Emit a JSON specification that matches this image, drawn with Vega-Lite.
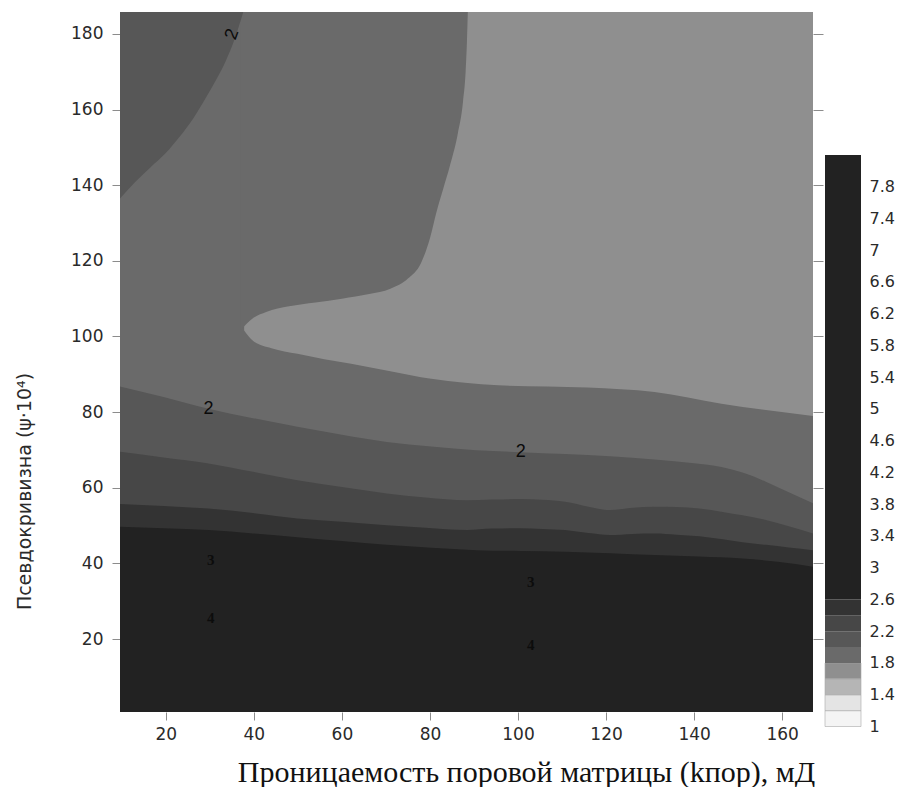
{
  "$schema": "https://vega.github.io/schema/vega-lite/v6.json",
  "padding": {"left": 15, "top": 12, "right": 0, "bottom": 0},
  "background": "white",
  "spacing": 0,
  "config": {"view": {"stroke": null}, "font": "DejaVu Sans"},
  "datasets": {
    "full": [{"x": 9.6, "y": 185.8}, {"x": 167, "y": 185.8}],
    "light": [{"x": 37.8, "y": 101.6}, {"x": 39.8, "y": 98.9}, {"x": 44, "y": 96.9}, {"x": 49.9, "y": 95.4}, {"x": 56, "y": 94.0}, {"x": 62.1, "y": 92.8}, {"x": 71, "y": 90.8}, {"x": 80.3, "y": 88.8}, {"x": 95.5, "y": 87.1}, {"x": 115.8, "y": 86.5}, {"x": 131, "y": 85.3}, {"x": 146.2, "y": 82.2}, {"x": 167, "y": 79.0}],
    "tongueTop": [{"x": 37.0, "y": 101.7}, {"x": 38.3, "y": 103.3}, {"x": 40, "y": 105.0}, {"x": 42.8, "y": 106.5}, {"x": 48, "y": 108.0}, {"x": 54, "y": 109.0}, {"x": 60, "y": 110.0}, {"x": 66.2, "y": 111.2}, {"x": 71, "y": 112.6}, {"x": 75, "y": 115.3}, {"x": 78, "y": 119.5}, {"x": 80, "y": 126}, {"x": 81.5, "y": 133}, {"x": 83, "y": 139}, {"x": 84.5, "y": 145}, {"x": 86.3, "y": 153.5}, {"x": 87.5, "y": 162}, {"x": 88.1, "y": 170}, {"x": 88.4, "y": 178}, {"x": 88.6, "y": 185.8}],
    "corner": [{"x": 9.6, "y": 136.5}, {"x": 13, "y": 140.8}, {"x": 16.5, "y": 144.7}, {"x": 20, "y": 148.5}, {"x": 23, "y": 152.6}, {"x": 26.2, "y": 157.6}, {"x": 29.1, "y": 163.1}, {"x": 31.5, "y": 168}, {"x": 33.6, "y": 172.8}, {"x": 35.6, "y": 178.5}, {"x": 37.6, "y": 185.8}],
    "c20": [{"x": 9.6, "y": 86.8}, {"x": 19.5, "y": 84.0}, {"x": 29.7, "y": 80.9}, {"x": 39.8, "y": 78.4}, {"x": 49.9, "y": 76.1}, {"x": 60, "y": 74.0}, {"x": 70.2, "y": 72.1}, {"x": 80.3, "y": 70.9}, {"x": 90.5, "y": 69.9}, {"x": 100.6, "y": 69.4}, {"x": 110.7, "y": 68.9}, {"x": 120.9, "y": 68.3}, {"x": 131.0, "y": 67.5}, {"x": 140, "y": 66.5}, {"x": 146.2, "y": 65.5}, {"x": 151, "y": 64.0}, {"x": 156.3, "y": 61.6}, {"x": 161.5, "y": 58.8}, {"x": 167, "y": 55.9}],
    "c22": [{"x": 9.6, "y": 69.5}, {"x": 19.5, "y": 68.0}, {"x": 29.7, "y": 66.4}, {"x": 39.8, "y": 64.2}, {"x": 49.9, "y": 62.0}, {"x": 60, "y": 60.2}, {"x": 70.2, "y": 58.5}, {"x": 79, "y": 57.4}, {"x": 88.4, "y": 56.7}, {"x": 94, "y": 56.9}, {"x": 100.6, "y": 57.0}, {"x": 105.5, "y": 56.8}, {"x": 110.7, "y": 56.3}, {"x": 116, "y": 55.0}, {"x": 120.9, "y": 54.1}, {"x": 126, "y": 54.7}, {"x": 131.0, "y": 55.0}, {"x": 136, "y": 54.9}, {"x": 141.2, "y": 54.5}, {"x": 146.5, "y": 53.6}, {"x": 151, "y": 52.7}, {"x": 156.3, "y": 51.5}, {"x": 161.5, "y": 49.8}, {"x": 167, "y": 47.9}],
    "c24": [{"x": 9.6, "y": 55.7}, {"x": 19.5, "y": 55.2}, {"x": 29.7, "y": 54.5}, {"x": 39.8, "y": 53.3}, {"x": 49.9, "y": 51.9}, {"x": 60, "y": 51.0}, {"x": 70.2, "y": 50.1}, {"x": 79, "y": 49.4}, {"x": 88.4, "y": 48.8}, {"x": 94, "y": 49.2}, {"x": 100.6, "y": 49.3}, {"x": 105.5, "y": 49.1}, {"x": 110.7, "y": 48.8}, {"x": 116, "y": 48.0}, {"x": 120.9, "y": 47.5}, {"x": 126, "y": 47.8}, {"x": 131.0, "y": 47.9}, {"x": 136, "y": 47.6}, {"x": 141.2, "y": 47.2}, {"x": 146.5, "y": 46.4}, {"x": 151, "y": 45.6}, {"x": 156.3, "y": 44.9}, {"x": 161.5, "y": 44.2}, {"x": 167, "y": 43.5}],
    "c26": [{"x": 9.6, "y": 49.7}, {"x": 19.5, "y": 49.3}, {"x": 29.7, "y": 48.8}, {"x": 39.8, "y": 47.9}, {"x": 49.9, "y": 46.9}, {"x": 60, "y": 45.9}, {"x": 70.2, "y": 44.9}, {"x": 80.3, "y": 44.1}, {"x": 90.5, "y": 43.5}, {"x": 100.6, "y": 43.3}, {"x": 110.7, "y": 43.1}, {"x": 120.9, "y": 42.7}, {"x": 131, "y": 42.2}, {"x": 141, "y": 41.8}, {"x": 151, "y": 41.3}, {"x": 159, "y": 40.4}, {"x": 167, "y": 39.1}],
    "lab2": [{"t": "2", "x": 29.7, "y": 80.7}, {"t": "2", "x": 100.6, "y": 69.5}],
    "lab2r": [{"t": "2", "x": 35.1, "y": 179.9}],
    "lab34": [{"t": "3", "x": 30.2, "y": 40.9}, {"t": "3", "x": 102.9, "y": 35.2}, {"t": "4", "x": 30.2, "y": 25.5}, {"t": "4", "x": 102.9, "y": 18.4}],
    "bar": [{"band": "1–1.2", "lo": 1, "hi": 1.2}, {"band": "1.2–1.4", "lo": 1.2, "hi": 1.4}, {"band": "1.4–1.6", "lo": 1.4, "hi": 1.6}, {"band": "1.6–1.8", "lo": 1.6, "hi": 1.8}, {"band": "1.8–2", "lo": 1.8, "hi": 2.0}, {"band": "2–2.2", "lo": 2.0, "hi": 2.2}, {"band": "2.2–2.4", "lo": 2.2, "hi": 2.4}, {"band": "2.4–2.6", "lo": 2.4, "hi": 2.6}, {"band": "2.6+", "lo": 2.6, "hi": 8.2}]
  },
  "hconcat": [
    {
      "width": 693,
      "height": 700,
      "resolve": {"axis": {"y": "independent"}},
      "encoding": {
        "x": {"field": "x", "type": "quantitative", "scale": {"domain": [9.6, 167], "nice": false, "zero": false},
          "axis": {"values": [20, 40, 60, 80, 100, 120, 140, 160], "grid": false, "domain": false, "tickColor": "#8c8c8c", "tickSize": 8, "labelPadding": 6, "labelFont": "DejaVu Sans", "labelFontSize": 17, "labelColor": "#2a2a2a",
            "title": "Проницаемость поровой матрицы (kпор), мД", "titleFont": "Liberation Serif", "titleFontSize": 30, "titleFontWeight": "normal", "titleColor": "#111111", "titleX": 406, "titleY": 69, "titleBaseline": "alphabetic"}},
        "y": {"field": "y", "type": "quantitative", "stack": null, "scale": {"domain": [0.7, 185.8], "nice": false, "zero": false}, "axis": null}
      },
      "layer": [
        {
          "data": {"name": "full"},
          "mark": {"type": "area", "clip": true},
          "encoding": {
            "y": {"field": "y", "type": "quantitative", "stack": null, "scale": {"domain": [0.7, 185.8], "nice": false, "zero": false},
              "axis": {"orient": "left", "values": [20, 40, 60, 80, 100, 120, 140, 160, 180], "grid": false, "domain": false, "tickColor": "#8c8c8c", "tickSize": 8, "labelPadding": 9, "labelFont": "DejaVu Sans", "labelFontSize": 17, "labelColor": "#2a2a2a",
                "title": "Псевдокривизна (ψ·10⁴)", "titleFont": "DejaVu Sans", "titleFontSize": 19, "titleFontWeight": "normal", "titleColor": "#2a2a2a", "titleX": -96, "titleY": 479, "titleBaseline": "middle"}},
            "y2": {"datum": 0.7},
            "color": {"datum": "1.8–2", "scale": {"domain": ["1–1.2", "1.2–1.4", "1.4–1.6", "1.6–1.8", "1.8–2", "2–2.2", "2.2–2.4", "2.4–2.6", "2.6+"], "range": ["#f4f4f4", "#e4e4e4", "#b5b5b5", "#8f8f8f", "#6a6a6a", "#575757", "#474747", "#333333", "#222222"]}, "legend": null}
          }
        },
        {
          "data": {"name": "light"},
          "mark": {"type": "area", "interpolate": "monotone", "clip": true},
          "encoding": {
            "y": {"field": "y", "type": "quantitative", "stack": null, "scale": {"domain": [0.7, 185.8], "nice": false, "zero": false},
              "axis": {"orient": "right", "values": [20, 40, 60, 80, 100, 120, 140, 160, 180], "grid": false, "domain": false, "labels": false, "tickColor": "#8c8c8c", "tickSize": 10, "title": null}},
            "y2": {"datum": 185.8},
            "color": {"datum": "1.6–1.8", "scale": {"domain": ["1–1.2", "1.2–1.4", "1.4–1.6", "1.6–1.8", "1.8–2", "2–2.2", "2.2–2.4", "2.4–2.6", "2.6+"], "range": ["#f4f4f4", "#e4e4e4", "#b5b5b5", "#8f8f8f", "#6a6a6a", "#575757", "#474747", "#333333", "#222222"]}, "legend": null}
          }
        },
        {
          "data": {"name": "tongueTop"},
          "mark": {"type": "area", "interpolate": "monotone", "clip": true},
          "encoding": {
            "y2": {"datum": 185.8},
            "color": {"datum": "1.8–2", "scale": {"domain": ["1–1.2", "1.2–1.4", "1.4–1.6", "1.6–1.8", "1.8–2", "2–2.2", "2.2–2.4", "2.4–2.6", "2.6+"], "range": ["#f4f4f4", "#e4e4e4", "#b5b5b5", "#8f8f8f", "#6a6a6a", "#575757", "#474747", "#333333", "#222222"]}, "legend": null}
          }
        },
        {
          "data": {"name": "corner"},
          "mark": {"type": "area", "interpolate": "monotone", "clip": true},
          "encoding": {
            "y2": {"datum": 185.8},
            "color": {"datum": "2–2.2", "scale": {"domain": ["1–1.2", "1.2–1.4", "1.4–1.6", "1.6–1.8", "1.8–2", "2–2.2", "2.2–2.4", "2.4–2.6", "2.6+"], "range": ["#f4f4f4", "#e4e4e4", "#b5b5b5", "#8f8f8f", "#6a6a6a", "#575757", "#474747", "#333333", "#222222"]}, "legend": null}
          }
        },
        {
          "data": {"name": "c20"},
          "mark": {"type": "area", "interpolate": "monotone", "clip": true},
          "encoding": {
            "y2": {"datum": 0.7},
            "color": {"datum": "2–2.2", "scale": {"domain": ["1–1.2", "1.2–1.4", "1.4–1.6", "1.6–1.8", "1.8–2", "2–2.2", "2.2–2.4", "2.4–2.6", "2.6+"], "range": ["#f4f4f4", "#e4e4e4", "#b5b5b5", "#8f8f8f", "#6a6a6a", "#575757", "#474747", "#333333", "#222222"]}, "legend": null}
          }
        },
        {
          "data": {"name": "c22"},
          "mark": {"type": "area", "interpolate": "monotone", "clip": true},
          "encoding": {
            "y2": {"datum": 0.7},
            "color": {"datum": "2.2–2.4", "scale": {"domain": ["1–1.2", "1.2–1.4", "1.4–1.6", "1.6–1.8", "1.8–2", "2–2.2", "2.2–2.4", "2.4–2.6", "2.6+"], "range": ["#f4f4f4", "#e4e4e4", "#b5b5b5", "#8f8f8f", "#6a6a6a", "#575757", "#474747", "#333333", "#222222"]}, "legend": null}
          }
        },
        {
          "data": {"name": "c24"},
          "mark": {"type": "area", "interpolate": "monotone", "clip": true},
          "encoding": {
            "y2": {"datum": 0.7},
            "color": {"datum": "2.4–2.6", "scale": {"domain": ["1–1.2", "1.2–1.4", "1.4–1.6", "1.6–1.8", "1.8–2", "2–2.2", "2.2–2.4", "2.4–2.6", "2.6+"], "range": ["#f4f4f4", "#e4e4e4", "#b5b5b5", "#8f8f8f", "#6a6a6a", "#575757", "#474747", "#333333", "#222222"]}, "legend": null}
          }
        },
        {
          "data": {"name": "c26"},
          "mark": {"type": "area", "interpolate": "monotone", "clip": true},
          "encoding": {
            "y2": {"datum": 0.7},
            "color": {"datum": "2.6+", "scale": {"domain": ["1–1.2", "1.2–1.4", "1.4–1.6", "1.6–1.8", "1.8–2", "2–2.2", "2.2–2.4", "2.4–2.6", "2.6+"], "range": ["#f4f4f4", "#e4e4e4", "#b5b5b5", "#8f8f8f", "#6a6a6a", "#575757", "#474747", "#333333", "#222222"]}, "legend": null}
          }
        },
        {
          "data": {"name": "lab2"},
          "mark": {"type": "text", "font": "Liberation Sans", "fontSize": 18, "color": "#0a0a0a", "baseline": "middle", "align": "center"},
          "encoding": {"text": {"field": "t"}}
        },
        {
          "data": {"name": "lab2r"},
          "mark": {"type": "text", "font": "Liberation Sans", "fontSize": 18, "color": "#0a0a0a", "baseline": "middle", "align": "center", "angle": 290},
          "encoding": {"text": {"field": "t"}}
        },
        {
          "data": {"name": "lab34"},
          "mark": {"type": "text", "font": "Liberation Serif", "fontSize": 15, "fontWeight": "bold", "color": "#0c0c0c", "baseline": "middle", "align": "center"},
          "encoding": {"text": {"field": "t"}}
        }
      ]
    },
    {
      "width": 36,
      "height": 728,
      "data": {"name": "bar"},
      "mark": {"type": "rect"},
      "encoding": {
        "y": {"field": "lo", "type": "quantitative", "scale": {"domain": [0.83, 10], "nice": false, "zero": false},
          "axis": {"orient": "right", "values": [1, 1.4, 1.8, 2.2, 2.6, 3, 3.4, 3.8, 4.2, 4.6, 5, 5.4, 5.8, 6.2, 6.6, 7, 7.4, 7.8], "format": ".1~f", "domain": false, "ticks": false, "grid": false, "labelPadding": 8, "labelFont": "DejaVu Sans", "labelFontSize": 16, "labelColor": "#2a2a2a", "labelBaseline": "middle", "title": null}},
        "y2": {"field": "hi"},
        "color": {"field": "band", "type": "nominal", "scale": {"domain": ["1–1.2", "1.2–1.4", "1.4–1.6", "1.6–1.8", "1.8–2", "2–2.2", "2.2–2.4", "2.4–2.6", "2.6+"], "range": ["#f4f4f4", "#e4e4e4", "#b5b5b5", "#8f8f8f", "#6a6a6a", "#575757", "#474747", "#333333", "#222222"]}, "legend": null},
        "stroke": {"condition": {"test": "datum.lo < 1.8", "value": "#a8a8a8"}, "value": null},
        "strokeWidth": {"value": 0.6}
      }
    }
  ]
}
